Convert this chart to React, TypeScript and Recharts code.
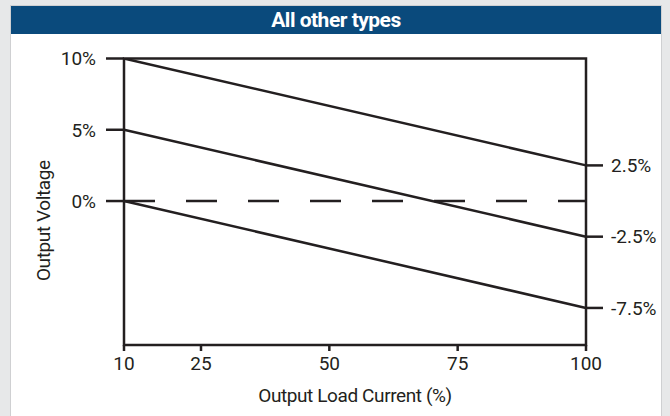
import React from 'react';
import {
  LineChart,
  Line,
  XAxis,
  YAxis,
  ReferenceArea,
} from 'recharts';

// load current (%) at both ends of each regulation line
const loadPoints = [10, 100];
const upperLimit = [10, 2.5];
const nominal = [5, -2.5];
const lowerLimit = [0, -7.5];
const zeroLine = [0, 0];

const xTicks = [10, 25, 50, 75, 100];
const leftTicks = [10, 5, 0];
const rightTicks = [2.5, -2.5, -7.5];
const yDomain = [-10.1, 10];

const INK = '#231f20';
const FONT = 'Roboto, "Liberation Sans", sans-serif';

const chartData = loadPoints.map((load, i) => ({
  load,
  upper: upperLimit[i],
  nominal: nominal[i],
  lower: lowerLimit[i],
  zero: zeroLine[i],
}));

const pct = (v: number) => `${v}%`;

const YTitle = ({ viewBox }: any) => {
  const x = viewBox.x - 21;
  const y = viewBox.y + viewBox.height / 2 + 19;
  return (
    <text
      x={x}
      y={y}
      transform={`rotate(-90, ${x}, ${y})`}
      textAnchor="middle"
      dominantBaseline="central"
      fill={INK}
      fontSize={19}
      letterSpacing={-0.4}
    >
      Output Voltage
    </text>
  );
};

const XTitle = ({ viewBox }: any) => (
  <text
    x={viewBox.x + viewBox.width / 2}
    y={viewBox.y + 57}
    textAnchor="middle"
    fill={INK}
    fontSize={19}
    letterSpacing={-0.4}
  >
    Output Load Current (%)
  </text>
);

export default function App() {
  return (
    <div
      style={{
        position: 'fixed',
        left: 0,
        top: 0,
        width: 670,
        height: 416,
        background: '#e7e8e9',
        overflow: 'hidden',
        fontFamily: FONT,
      }}
    >
      <div
        style={{
          position: 'absolute',
          left: 10,
          top: 5,
          width: 650,
          height: 430,
          background: '#ffffff',
          border: '1px solid #cfd0d2',
        }}
      >
        <div
          style={{
            height: 28,
            background: '#0a4a7c',
            color: '#ffffff',
            fontWeight: 700,
            fontSize: 21,
            lineHeight: '28px',
            letterSpacing: -0.5,
            textAlign: 'center',
          }}
        >
          All other types
        </div>
      </div>
      <div style={{ position: 'absolute', left: 0, top: 0 }}>
        <LineChart
          width={670}
          height={416}
          data={chartData}
          margin={{ top: 58.5, right: 24, bottom: 21, left: 64 }}
        >
          <XAxis
            dataKey="load"
            type="number"
            domain={[10, 100]}
            ticks={xTicks}
            axisLine={false}
            tickSize={6}
            tickMargin={6}
            tickLine={{ stroke: INK, strokeWidth: 2.5 }}
            tick={{ fill: INK, fontSize: 19 }}
            height={50}
            label={<XTitle />}
          />
          <YAxis
            yAxisId="left"
            type="number"
            domain={yDomain}
            ticks={leftTicks}
            allowDataOverflow
            axisLine={false}
            tickSize={18}
            tickMargin={10}
            tickLine={{ stroke: INK, strokeWidth: 2.5 }}
            tick={{ fill: INK, fontSize: 19 }}
            tickFormatter={pct}
            width={60}
            label={<YTitle />}
          />
          <YAxis
            yAxisId="right"
            orientation="right"
            type="number"
            domain={yDomain}
            ticks={rightTicks}
            allowDataOverflow
            axisLine={false}
            tickSize={17}
            tickMargin={8}
            tickLine={{ stroke: INK, strokeWidth: 2.5 }}
            tick={{ fill: INK, fontSize: 19 }}
            tickFormatter={pct}
            width={60}
          />
          <ReferenceArea
            yAxisId="left"
            x1={10}
            x2={100}
            y1={yDomain[0]}
            y2={yDomain[1]}
            fill="none"
            stroke={INK}
            strokeWidth={2.5}
          />
          <Line
            yAxisId="left"
            dataKey="zero"
            stroke={INK}
            strokeWidth={2.5}
            strokeDasharray="31 31"
            dot={false}
            isAnimationActive={false}
          />
          <Line
            yAxisId="left"
            dataKey="upper"
            stroke={INK}
            strokeWidth={2.5}
            dot={false}
            isAnimationActive={false}
          />
          <Line
            yAxisId="left"
            dataKey="nominal"
            stroke={INK}
            strokeWidth={2.5}
            dot={false}
            isAnimationActive={false}
          />
          <Line
            yAxisId="left"
            dataKey="lower"
            stroke={INK}
            strokeWidth={2.5}
            dot={false}
            isAnimationActive={false}
          />
        </LineChart>
      </div>
    </div>
  );
}
